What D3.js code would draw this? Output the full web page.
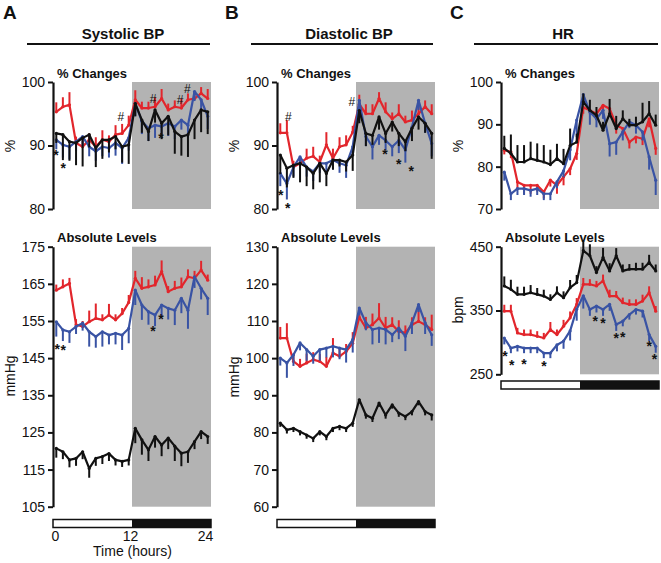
<!DOCTYPE html>
<html>
<head>
<meta charset="utf-8">
<script src="https://d3js.org/d3.v7.min.js"></script>
<style>
    body { margin: 0; background: #fff; }
    svg { font-family: Arial, "Liberation Sans", sans-serif; }
</style>
</head>
<body>
<svg id="fig" width="661" height="563"></svg>
<script>
// hourly bins, plotted at the half hour
var hours = [0.5, 1.5, 2.5, 3.5, 4.5, 5.5, 6.5, 7.5, 8.5, 9.5, 10.5, 11.5,
             12.5, 13.5, 14.5, 15.5, 16.5, 17.5, 18.5, 19.5, 20.5, 21.5, 22.5, 23.5];
var timeTicks = [0, 12, 24];
var lightPhase = [0, 12];
var darkPhase = [12, 24];

// Systolic BP, % changes
var sysPctRed = [95.3,96.1,96.4,90.4,89.8,90.9,89.8,90.9,90.6,91.7,91.9,93.2,97.2,95.9,95.9,96.1,97.4,95.6,96.1,95.9,97.2,97.4,98.2,97.4];
var sysPctRedErr = [1.5,1.5,2,1,1,1,1.5,1.5,1,1.5,1.5,1.5,1.5,1,1,1.5,1.5,1,1,1.5,1,1,1,1.5];
var sysPctBlue = [90.9,90.1,89.8,90.6,91.4,89.8,89.1,89.8,89.6,90.4,89.6,91.2,96.6,93.8,92.7,93.2,93.0,93.5,93.0,94.0,93.2,98.5,97.2,94.6];
var sysPctBlueErr = [1.5,2,2,1.5,1.5,1.5,1.5,1.5,1.5,2,2.5,2,2,2,2,2,1.5,2,2,1.5,2,1.5,1.5,2];
var sysPctBlack = [91.9,91.7,90.6,90.4,91.2,91.7,89.6,90.9,90.9,91.4,89.8,90.1,96.6,94.0,92.2,95.6,93.5,94.6,92.2,91.4,91.7,94.0,95.6,95.3];
var sysPctBlackErr = [1.5,4,3,3.5,4.5,2,3,3,2,2,2.5,3,2,2,1.5,2,2.5,3,3.5,3,3.5,3,3.5,3.5];

// Systolic BP, absolute (mmHg)
var sysAbsRed = [163.3,164.2,165.1,154,153.5,154.8,155.7,155.3,156.6,155.3,157,160,166.5,163.8,164.2,164.7,168.3,162.9,163.8,164.2,166.9,166.5,168.7,166];
var sysAbsRedErr = [1.5,2,1.5,1.5,1.5,3,4,1.5,3,1.5,1.5,2,2,3,2,2.5,3,1.5,2,2.5,2,2,2.5,1.5];
var sysAbsBlue = [154.8,152.6,152.1,153.5,154.4,152.1,150.8,152.1,151.2,151.7,151.2,153,163.3,159.3,157.5,156.6,159.3,158.4,157.9,161.1,157.9,166.9,163.8,161.1];
var sysAbsBlueErr = [4,3,3,2,2,4,3,4,2.5,3,4,4,4,4,3.5,3,3,3,4,4,5,3,3,4.5];
var sysAbsBlack = [120.7,119.8,117.6,118,119.8,115.3,118,118.5,119.3,117.6,117.2,117.6,126.1,123,120.3,123.9,121.6,123.5,121.3,119.4,119.8,122.5,125.2,123.9];
var sysAbsBlackErr = [2.5,2,2,2,2,2.5,2,2,2,1.5,1.5,1.5,4,4,3,3,3,3,4,3.5,3,2,2,2];

// Diastolic BP, % changes
var diaPctRed = [92,92,86.6,87.2,88,88.3,87.4,90.1,88,89.8,90.1,92.1,96.5,95,95,97.4,95.3,94.2,95,93.7,94,95,96.1,95];
var diaPctRedErr = [1.5,2,1,1,1.5,1.5,1,2,1.5,1.5,1.5,1,1.5,1.5,1.5,1,1.5,1,1.5,1,1.5,1.5,1,1.5];
var diaPctBlue = [85.6,84,86.6,88.2,86.6,85.9,87.2,87.2,87.7,87.2,86.9,89.8,97.1,91.4,89.8,91.6,90.8,89.8,90.8,89.3,92.9,97.1,93.5,90.3];
var diaPctBlueErr = [2,2.5,1.5,1.5,1.5,1.5,1.5,1.5,1.5,1.5,2,1.5,2,1.5,2,1.5,1.5,1.5,2,2,1.5,1.5,1.5,2];
var diaPctBlack = [88.5,86.4,86.9,87.2,86.6,85.6,87.2,85.6,87.7,87.7,87.4,88.5,95.5,91.9,91.6,94.5,91.9,93.7,91.9,90.6,92.7,94.5,93.5,91.9];
var diaPctBlackErr = [3,3,2,3,3,2.5,3,2,1.5,1,1.5,2.5,2,2,1.5,2,1.5,1.5,2,1.5,2,2,1.5,4];

// Diastolic BP, absolute (mmHg)
var diaAbsRed = [105.4,105.4,99.1,97.8,98.7,99.6,99.1,97.8,101.4,100.5,101.8,104,111,108.1,109,110.8,108.1,109,107.2,106.8,109,109.9,109,107.7];
var diaAbsRedErr = [3,4,2,2,2.5,2,2,2.5,4,2,2,3,2,3,3,4,3,2,3,2,2,4,2,4];
var diaAbsBlue = [100,98.7,100.9,104.1,102.3,100.5,102.3,102.7,103.2,102.7,102.3,105,113.5,109.5,107.7,108.1,107.7,106.3,108.1,105.9,109.5,114.4,109.5,106.3];
var diaAbsBlueErr = [2,4,3,2,3,2,3,2.5,3,3,3.5,3.5,2,2,4,4,4,2,3,4,3,2,3,3];
var diaAbsBlack = [82.5,80.7,81.1,80.2,79.3,78.4,80.2,78.9,81.1,81.6,81.1,82.5,88.8,84.7,83.8,87.9,84.7,87.4,85.2,84.3,85.6,88.3,85.6,84.7];
var diaAbsBlackErr = [1,1,1,1,1,1,1,1,1,1,1,1,1,1,1,1,1,1,1,1,1,1,1,1.5];

// Heart rate, % changes
var hrPctRed = [83.9,83.5,76.4,75.6,75.6,75.6,74,76.8,75.6,77.6,79.5,83.1,94,93.3,92.5,94.5,93.7,89.8,89,85.8,87,86.6,91.3,84.3];
var hrPctRedErr = [1,1.5,1.5,2,2,1.5,1.5,1.5,2,2,1.5,1.5,1.5,1,1,1.5,1.5,2,1.5,1.5,1.5,1.5,2,1.5];
var hrPctBlue = [78.7,73.6,74.8,74.8,74.4,74.8,73.6,73.6,76.4,79,84,91,97,92.9,91.3,93.3,85.4,85.8,88.2,90.6,89.8,88.2,82.3,76.8];
var hrPctBlueErr = [2,1.5,1.5,1.5,1.5,1.5,1.5,1.5,1.5,1.5,2.5,4,2,3,2,2,3,3,2,1.5,2,2,3,3.5];
var hrPctBlack = [84.3,83.1,81.1,81.1,81.9,81.5,81.1,80.5,81.9,80.7,85,85.8,95.3,93.3,92.1,88.6,92.5,89,91.3,89.8,89.8,90.6,92.5,89.8];
var hrPctBlackErr = [3,4.5,4,4,4,4,4,3.5,3.5,3.5,4,2,2,2.5,2,2,3.5,3,2,1.5,2,4.5,3,2.5];

// Heart rate, absolute (bpm)
var hrAbsRed = [349,349,314.8,312.2,312.2,309.6,306.9,320,312.2,325.3,338.5,359.5,391,391.1,388.4,396.3,372.6,372.6,362.2,359.5,359.5,364.8,377.9,349];
var hrAbsRedErr = [10,10,8,8,8,8,8,12,8,10,10,10,10,8,8,10,10,8,8,8,8,10,10,8];
var hrAbsBlue = [306.9,291.1,293.8,291.1,291.1,291.1,283.3,283.3,296,302,318,352,373,351.6,356.9,351.6,359.5,328,333.2,343.7,351.6,349,312.2,293.8];
var hrAbsBlueErr = [10,8,8,8,8,8,8,8,10,12,15,18,20,10,10,10,10,10,8,8,8,10,10,10];
var hrAbsBlack = [388.4,383.2,375.3,375.3,377.9,375.3,372.6,367.4,377.9,370,385.8,393.7,443.7,435.8,409.5,433.2,412.1,435.8,412.1,414.8,414.8,414.8,425.3,412.1];
var hrAbsBlackErr = [15,15,12,12,12,10,10,8,10,10,12,12,15,18,10,15,12,12,10,8,10,10,12,10];

// significance marks: [hour, value, symbol]
var sysPctMarks = [[0.46,89.0,"*"],[1.57,87.0,"*"],[10.3,94.6,"#"],[15.2,97.3,"#"],[16.4,91.7,"*"],[19.3,97.2,"#"],[20.4,98.9,"#"]];
var sysAbsMarks = [[0.65,148.3,"*"],[1.57,147.9,"*"],[15.2,153.0,"*"],[16.4,156.3,"*"]];
var diaPctMarks = [[1.72,94.55,"#"],[11.35,96.9,"#"],[0.56,82.6,"*"],[1.63,80.7,"*"],[16.4,89.1,"*"],[18.5,87.6,"*"],[20.4,86.5,"*"]];
var hrAbsMarks = [[0.61,282.9,"*"],[1.63,269.7,"*"],[3.5,270.8,"*"],[6.53,268.2,"*"],[14.3,337.8,"*"],[15.5,335.1,"*"],[17.5,311.6,"*"],[18.5,313.2,"*"],[22.5,298.6,"*"],[23.3,279.2,"*"]];

var red = "#e2262c", blue = "#3953a4", black = "#111111", shade = "#b3b3b3";
var svg = d3.select("#fig");

function drawChart(c) {
    var x = d3.scaleLinear().domain([0, 24]).range([c.ox, c.ox + 158]);
    var y = d3.scaleLinear().domain(c.domain).range(c.range);
    var g = svg.append("g");

    // dark phase
    g.append("rect")
        .attr("x", x(darkPhase[0]))
        .attr("y", y(c.domain[1]))
        .attr("width", x(darkPhase[1]) - x(darkPhase[0]))
        .attr("height", y(c.domain[0]) - y(c.domain[1]))
        .attr("fill", shade);

    c.series.forEach(function (s) {
        var pts = hours.map(function (h, i) { return { h: h, v: s.values[i], e: s.err[i] }; });
        g.selectAll(null).data(pts).enter().append("line")
            .attr("x1", function (d) { return x(d.h); })
            .attr("x2", function (d) { return x(d.h); })
            .attr("y1", function (d) { return y(d.v); })
            .attr("y2", function (d) { return y(d.v + s.dir * d.e); })
            .attr("stroke", s.color)
            .attr("stroke-width", 2);
        g.append("path").datum(pts)
            .attr("d", d3.line().x(function (d) { return x(d.h); }).y(function (d) { return y(d.v); }))
            .attr("fill", "none")
            .attr("stroke", s.color)
            .attr("stroke-width", 2.2)
            .attr("stroke-linejoin", "round");
        g.selectAll(null).data(pts).enter().append("circle")
            .attr("cx", function (d) { return x(d.h); })
            .attr("cy", function (d) { return y(d.v); })
            .attr("r", 1.6)
            .attr("fill", s.color);
    });

    (c.marks || []).forEach(function (m) {
        g.append("text")
            .attr("x", x(m[0]))
            .attr("y", y(m[1]))
            .attr("dy", m[2] == "*" ? "0.57em" : "0.36em")
            .attr("text-anchor", "middle")
            .attr("font-size", m[2] == "*" ? 14 : 12)
            .attr("font-weight", m[2] == "*" ? "bold" : "normal")
            .attr("fill", "#111")
            .text(m[2]);
    });

    var ax = g.append("g")
        .attr("transform", "translate(" + c.ox + ",0)")
        .call(d3.axisLeft(y).tickValues(c.ticks).tickSize(5).tickSizeOuter(0).tickPadding(3));
    ax.attr("font-size", 14).attr("font-family", "Arial, 'Liberation Sans', sans-serif");
    ax.select(".domain").attr("stroke-width", 2.2).attr("stroke", "#111");
    ax.selectAll(".tick line").attr("stroke-width", 2).attr("stroke", "#111");
    ax.selectAll(".tick text").attr("fill", "#111");

    g.append("text")
        .attr("x", c.ox + 4)
        .attr("y", c.range[1] - 4.5)
        .attr("font-size", 13)
        .attr("font-weight", "bold")
        .attr("fill", "#111")
        .text(c.subtitle);

    g.append("text")
        .attr("transform", "translate(" + (c.ox - 43) + "," + c.labelY + ") rotate(-90)")
        .attr("text-anchor", "middle")
        .attr("dy", "0.35em")
        .attr("font-size", 14)
        .attr("fill", "#111")
        .text(c.yLabel);

    return x;
}

function drawTimeBar(x, top, withLabels) {
    var g = svg.append("g");
    g.append("rect")
        .attr("x", x(lightPhase[0])).attr("y", top)
        .attr("width", x(lightPhase[1]) - x(lightPhase[0])).attr("height", 8)
        .attr("fill", "#fff");
    g.append("rect")
        .attr("x", x(darkPhase[0])).attr("y", top)
        .attr("width", x(darkPhase[1]) - x(darkPhase[0])).attr("height", 8)
        .attr("fill", "#111");
    g.append("rect")
        .attr("x", x(lightPhase[0])).attr("y", top)
        .attr("width", x(darkPhase[1]) - x(lightPhase[0])).attr("height", 8)
        .attr("fill", "none").attr("stroke", "#111").attr("stroke-width", 1.5);
    if (withLabels) {
        var lx = d3.scaleLinear().domain([0, 24]).range([x(0) + 2.5, x(24) - 5.5]);
        g.selectAll(null).data(timeTicks).enter().append("text")
            .attr("x", function (d) { return lx(d); })
            .attr("y", top + 21)
            .attr("text-anchor", "middle")
            .attr("font-size", 14)
            .attr("fill", "#111")
            .text(function (d) { return d; });
        g.append("text")
            .attr("x", lx(12) + 2)
            .attr("y", top + 36)
            .attr("text-anchor", "middle")
            .attr("font-size", 14)
            .attr("fill", "#111")
            .text("Time (hours)");
    }
}

function drawHeader(letter, lx, title, cx, x1, x2) {
    svg.append("text").attr("x", lx).attr("y", 19)
        .attr("font-size", 19).attr("font-weight", "bold").attr("fill", "#111").text(letter);
    svg.append("text").attr("x", cx).attr("y", 39)
        .attr("text-anchor", "middle")
        .attr("font-size", 15).attr("font-weight", "bold").attr("fill", "#111").text(title);
    svg.append("line").attr("x1", x1).attr("x2", x2).attr("y1", 44).attr("y2", 44)
        .attr("stroke", "#111").attr("stroke-width", 2);
}

// Panel A
drawHeader("A", 3, "Systolic BP", 123, 27, 210);
drawChart({
    ox: 53, domain: [80, 100], range: [209, 82], ticks: [80, 90, 100],
    subtitle: "% Changes", yLabel: "%", labelY: 146, marks: sysPctMarks,
    series: [
        { values: sysPctRed, err: sysPctRedErr, dir: 1, color: red },
        { values: sysPctBlue, err: sysPctBlueErr, dir: -1, color: blue },
        { values: sysPctBlack, err: sysPctBlackErr, dir: -1, color: black }
    ]
});
var xA = drawChart({
    ox: 53, domain: [105, 175], range: [506.7, 246.7], ticks: [105, 115, 125, 135, 145, 155, 165, 175],
    subtitle: "Absolute Levels", yLabel: "mmHg", labelY: 376, marks: sysAbsMarks,
    series: [
        { values: sysAbsRed, err: sysAbsRedErr, dir: 1, color: red },
        { values: sysAbsBlue, err: sysAbsBlueErr, dir: -1, color: blue },
        { values: sysAbsBlack, err: sysAbsBlackErr, dir: -1, color: black }
    ]
});
drawTimeBar(xA, 519.5, true);

// Panel B
drawHeader("B", 225, "Diastolic BP", 349, 251, 433);
drawChart({
    ox: 277, domain: [80, 100], range: [209, 82], ticks: [80, 90, 100],
    subtitle: "% Changes", yLabel: "%", labelY: 146, marks: diaPctMarks,
    series: [
        { values: diaPctRed, err: diaPctRedErr, dir: 1, color: red },
        { values: diaPctBlue, err: diaPctBlueErr, dir: -1, color: blue },
        { values: diaPctBlack, err: diaPctBlackErr, dir: -1, color: black }
    ]
});
var xB = drawChart({
    ox: 277, domain: [60, 130], range: [506.7, 246.7], ticks: [60, 70, 80, 90, 100, 110, 120, 130],
    subtitle: "Absolute Levels", yLabel: "mmHg", labelY: 377, marks: [],
    series: [
        { values: diaAbsRed, err: diaAbsRedErr, dir: 1, color: red },
        { values: diaAbsBlue, err: diaAbsBlueErr, dir: -1, color: blue },
        { values: diaAbsBlack, err: diaAbsBlackErr, dir: -1, color: black }
    ]
});
drawTimeBar(xB, 519.5, false);

// Panel C
drawHeader("C", 450, "HR", 563, 474, 658);
drawChart({
    ox: 501, domain: [70, 100], range: [209, 82], ticks: [70, 80, 90, 100],
    subtitle: "% Changes", yLabel: "%", labelY: 146, marks: [],
    series: [
        { values: hrPctRed, err: hrPctRedErr, dir: -1, color: red },
        { values: hrPctBlue, err: hrPctBlueErr, dir: -1, color: blue },
        { values: hrPctBlack, err: hrPctBlackErr, dir: 1, color: black }
    ]
});
var xC = drawChart({
    ox: 501, domain: [250, 450], range: [374.3, 246.7], ticks: [250, 350, 450],
    subtitle: "Absolute Levels", yLabel: "bpm", labelY: 310, marks: hrAbsMarks,
    series: [
        { values: hrAbsRed, err: hrAbsRedErr, dir: 1, color: red },
        { values: hrAbsBlue, err: hrAbsBlueErr, dir: -1, color: blue },
        { values: hrAbsBlack, err: hrAbsBlackErr, dir: 1, color: black }
    ]
});
drawTimeBar(xC, 381, false);
</script>
</body>
</html>
